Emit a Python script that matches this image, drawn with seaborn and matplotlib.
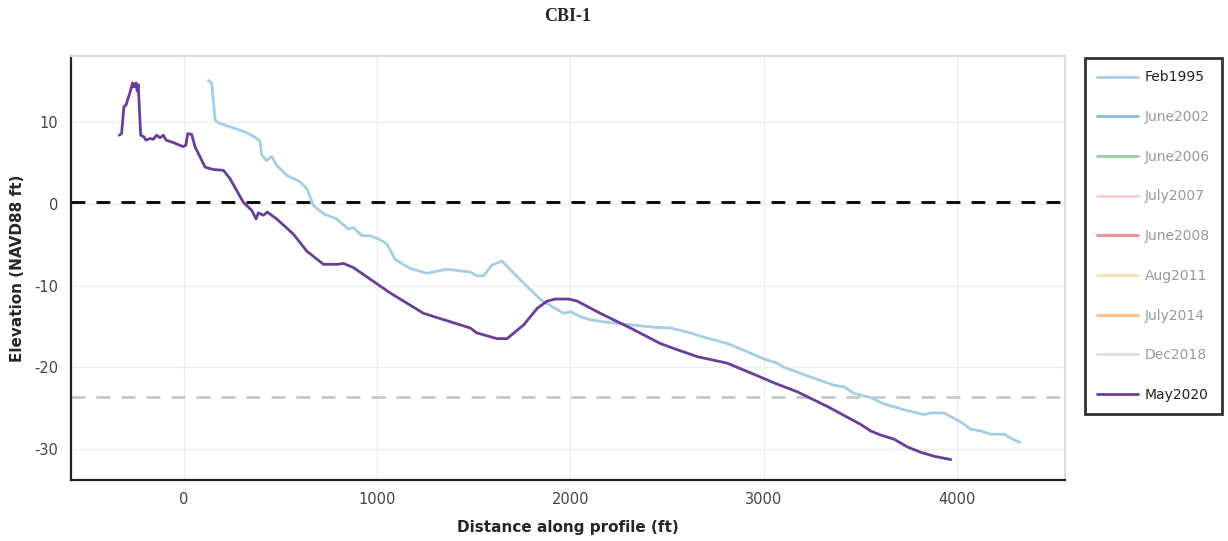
import matplotlib
matplotlib.use("Agg")
import matplotlib.pyplot as plt
from matplotlib.lines import Line2D
import seaborn as sns
import pandas as pd

# survey names in legend order
surveys = ["Feb1995", "June2002", "June2006", "July2007", "June2008",
           "Aug2011", "July2014", "Dec2018", "May2020"]
visible = ["Feb1995", "May2020"]

# profile data (distance ft, elevation ft NAVD88)
feb1995_x = [126, 143, 161, 178, 256, 316, 351, 394, 402, 428, 454, 480, 532, 601, 636,
             670, 722, 791, 851, 877, 921, 964, 1016, 1050, 1093, 1171, 1257, 1361, 1430,
             1482, 1516, 1551, 1594, 1646, 1741, 1845, 1965, 2000, 2052, 2104, 2190, 2311,
             2432, 2518, 2622, 2674, 2812, 2916, 3003, 3071, 3105, 3209, 3244, 3364, 3416,
             3468, 3554, 3623, 3744, 3831, 3865, 3934, 4021, 4073, 4124, 4176, 4245, 4297, 4328]
feb1995_y = [15.1, 14.8, 10.3, 9.9, 9.3, 8.8, 8.4, 7.7, 6.0, 5.3, 5.8, 4.7, 3.5, 2.7, 1.85,
             -0.2, -1.2, -1.85, -3.1, -2.9, -3.9, -3.9, -4.4, -4.9, -6.8, -7.9, -8.5, -8.0, -8.2,
             -8.35, -8.8, -8.8, -7.5, -7.0, -9.3, -11.7, -13.4, -13.2, -13.8, -14.2, -14.5, -14.8,
             -15.1, -15.2, -15.8, -16.2, -17.1, -18.1, -19.0, -19.5, -20.0, -20.9, -21.2, -22.2, -22.4,
             -23.2, -23.7, -24.5, -25.3, -25.8, -25.6, -25.6, -26.7, -27.6, -27.8, -28.2, -28.2, -28.9, -29.2]

may2020_x = [-335, -323, -311, -300, -280, -266, -259, -249, -242, -237, -224, -207, -197, -176,
             -159, -142, -124, -107, -93, -55, -4, 10, 19, 40, 57, 109, 152, 204, 238, 307, 351,
             373, 385, 411, 431, 480, 566, 636, 722, 791, 826, 877, 981, 1067, 1240, 1482, 1516,
             1620, 1672, 1759, 1828, 1880, 1922, 1991, 2035, 2155, 2311, 2466, 2535, 2656, 2812,
             2984, 3053, 3174, 3330, 3503, 3554, 3606, 3675, 3744, 3813, 3883, 3969]
may2020_y = [8.4, 8.6, 11.9, 12.1, 13.6, 14.8, 14.3, 14.8, 13.8, 14.6, 8.4, 8.2, 7.8, 8.0,
             7.9, 8.4, 8.1, 8.4, 7.8, 7.5, 7.0, 7.2, 8.6, 8.5, 7.0, 4.5, 4.2, 4.1, 3.1, 0.2, -0.8,
             -1.85, -1.1, -1.4, -1.0, -1.85, -3.7, -5.8, -7.4, -7.4, -7.3, -7.8, -9.5, -10.9, -13.4, -15.2, -15.8,
             -16.5, -16.5, -14.8, -12.8, -11.9, -11.65, -11.65, -11.9, -13.4, -15.2, -17.1, -17.7, -18.7, -19.5,
             -21.2, -21.9, -23.0, -24.8, -27.0, -27.8, -28.3, -28.8, -29.75, -30.4, -30.9, -31.3]

mhw_level = 0.25
doc_level = -23.7

xticks = [0, 1000, 2000, 3000, 4000]
yticks = [-30, -20, -10, 0, 10]

df = pd.concat([
    pd.DataFrame({"dist": feb1995_x, "elev": feb1995_y, "survey": "Feb1995"}),
    pd.DataFrame({"dist": may2020_x, "elev": may2020_y, "survey": "May2020"}),
])

sns.set_style("white")
plt.rcParams['font.family'] = ['DejaVu Sans']
plt.rcParams['axes.unicode_minus'] = False

paired = sns.color_palette("Paired", 10)
# the light green slot of the palette is not used
colors = dict(zip(surveys, [paired[i] for i in (0, 1, 3, 4, 5, 6, 7, 8, 9)]))

fig = plt.figure(figsize=(12.28, 5.41), dpi=100)
ax = fig.add_axes([0.0578, 0.1128, 0.8094, 0.7837])

ax.axhline(mhw_level, color="black", lw=2, ls=(0, (5, 4)), zorder=1)
ax.axhline(doc_level, color="#c8c8c8", lw=2, ls=(0, (5, 4)), zorder=1)

sns.lineplot(data=df, x="dist", y="elev", hue="survey", palette=colors,
             sort=False, estimator=None, lw=2, legend=False, ax=ax, zorder=3)

ax.set_xlim(-585, 4560)
ax.set_ylim(-33.8, 18.1)
ax.set_xticks(xticks)
ax.set_yticks(yticks)
ax.grid(True, color="#eeeeee", lw=1)
ax.tick_params(axis="both", direction="out", length=5, width=1.2, color="black",
               labelsize=10.5, labelcolor="#444444", pad=4)
for side in ["left", "bottom"]:
    ax.spines[side].set_color("#222222")
    ax.spines[side].set_linewidth(1.6)
for side in ["top", "right"]:
    ax.spines[side].set_color("#dddddd")
    ax.spines[side].set_linewidth(1.6)

ax.set_xlabel("Distance along profile (ft)", fontsize=11, fontweight="bold", labelpad=9)
ax.set_ylabel("Elevation (NAVD88 ft)", fontsize=11, fontweight="bold", labelpad=7)
ax.set_title("CBI-1", fontsize=13, fontweight="bold", family="Liberation Serif", pad=25)

handles = []
for s in surveys:
    alpha = 1.0 if s in visible else 0.5
    handles.append(Line2D([0], [0], color=colors[s], lw=2, alpha=alpha))
leg = fig.legend(handles, surveys, loc="upper left", bbox_to_anchor=(0.8835, 0.893),
                 fontsize=10, frameon=True, fancybox=False, edgecolor="black",
                 handlelength=2.9, handletextpad=0.5, labelspacing=1.85,
                 borderpad=0.9, borderaxespad=0)
leg.get_frame().set_linewidth(2)
for txt in leg.get_texts():
    txt.set_color("#222222" if txt.get_text() in visible else "#999999")

fig.savefig("out.png", dpi=100)
